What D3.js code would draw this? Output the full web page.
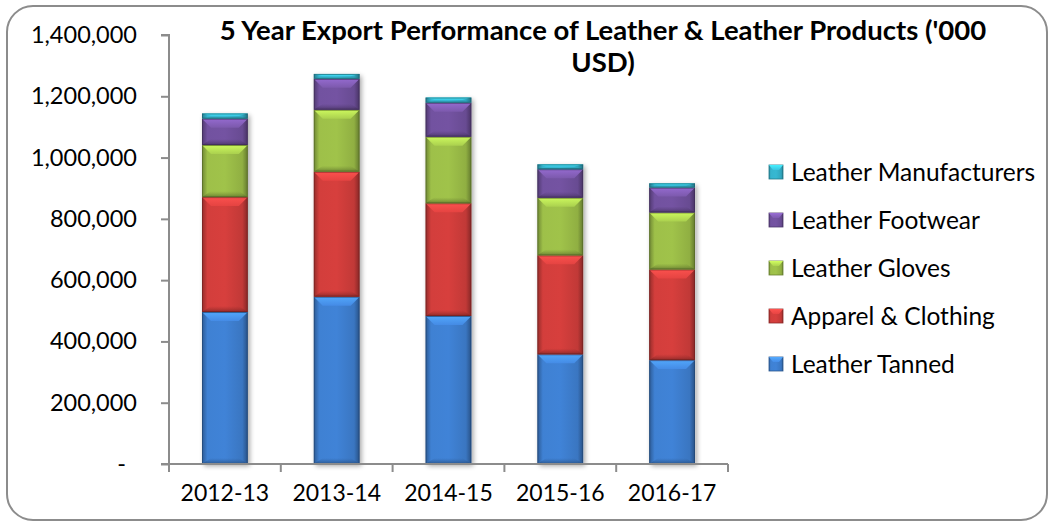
<!DOCTYPE html>
<html><head><meta charset="utf-8">
<script src="https://cdn.jsdelivr.net/npm/d3@7"></script>
<style>body{margin:0;background:#fff}svg{display:block}text{font-family:Lato,"Open Sans",sans-serif;fill:#000}</style>
</head><body><svg id="c" width="1053" height="529"></svg>
<script>
const categories = ["2012-13","2013-14","2014-15","2015-16","2016-17"];
const seriesNames = ["Leather Tanned","Apparel & Clothing","Leather Gloves","Leather Footwear","Leather Manufacturers"];
const leatherTanned = [496000, 546000, 483000, 358000, 339000];
const apparelClothing = [375000, 408000, 368000, 323000, 296000];
const leatherGloves = [170000, 202000, 217000, 188000, 186000];
const leatherFootwear = [86000, 101000, 111000, 93000, 81000];
const leatherManufacturers = [17000, 16000, 17000, 16000, 14000];
const yTicks = [0,200000,400000,600000,800000,1000000,1200000,1400000];
const colors = ["#3d7ccc","#cc3c3a","#98b946","#6e4f9a","#33aec7"];

const svg = d3.select("#c");
const defs = svg.append("defs");
svg.append("rect").attr("x",7).attr("y",6).attr("width",1040).attr("height",514).attr("rx",26).attr("ry",26)
  .attr("fill","#fff").attr("stroke","#8c8c8c").attr("stroke-width",2);

const values = [leatherTanned, apparelClothing, leatherGloves, leatherFootwear, leatherManufacturers];
const table = categories.map((c,i)=>{const o={cat:c}; seriesNames.forEach((s,j)=>o[s]=values[j][i]); return o;});
const stack = d3.stack().keys(seriesNames)(table);

const x = d3.scaleBand().domain(categories).range([169,728]).paddingInner(0.59).paddingOuter(0.295);
const y = d3.scaleLinear().domain([0,1400000]).range([464,35]);

colors.forEach((col,i)=>{
  const g = defs.append("linearGradient").attr("id","g"+i).attr("x1","0").attr("x2","1").attr("y1","0").attr("y2","0");
  const c = d3.color(col);
  g.append("stop").attr("offset","0").attr("stop-color",c.darker(0.9));
  g.append("stop").attr("offset","0.12").attr("stop-color",c.brighter(0.1));
  g.append("stop").attr("offset","0.5").attr("stop-color",c.brighter(0.15));
  g.append("stop").attr("offset","0.88").attr("stop-color",c.darker(0.15));
  g.append("stop").attr("offset","1").attr("stop-color",c.darker(1.2));
  const t = defs.append("linearGradient").attr("id","t"+i).attr("x1","0").attr("x2","0").attr("y1","0").attr("y2","1");
  t.append("stop").attr("offset","0").attr("stop-color",c.brighter(0.9));
  t.append("stop").attr("offset","1").attr("stop-color",c.brighter(0.35));
  const v = defs.append("linearGradient").attr("id","v"+i).attr("x1","0").attr("x2","0").attr("y1","0").attr("y2","1");
  v.append("stop").attr("offset","0").attr("stop-color",c.darker(0.6)).attr("stop-opacity",0);
  v.append("stop").attr("offset","1").attr("stop-color",c.darker(1.2)).attr("stop-opacity",0.9);
});
const sh = defs.append("filter").attr("id","sh").attr("x","-20%").attr("y","-5%").attr("width","150%").attr("height","115%");
sh.append("feGaussianBlur").attr("in","SourceAlpha").attr("stdDeviation",2.5);
sh.append("feOffset").attr("dx",2).attr("dy",2).attr("result","b");
sh.append("feComponentTransfer").append("feFuncA").attr("type","linear").attr("slope",0.35);
const m = sh.append("feMerge"); m.append("feMergeNode"); m.append("feMergeNode").attr("in","SourceGraphic");

svg.append("g").selectAll("rect").data(table).join("rect")
  .attr("x",d=>x(d.cat)).attr("width",x.bandwidth())
  .attr("y",(d,i)=>y(stack[4][i][1])).attr("height",(d,i)=>y(0)-y(stack[4][i][1]))
  .attr("fill","#fff").attr("filter","url(#sh)");

const bars = svg.append("g");
stack.forEach((s,j)=>{
  const g = bars.append("g");
  s.forEach((d,i)=>{
    const x0=x(categories[i]), w=x.bandwidth(), y0=y(d[1]), h=y(d[0])-y(d[1]);
    g.append("rect").attr("x",x0).attr("y",y0).attr("width",w).attr("height",h).attr("fill",`url(#g${j})`);
    const b=Math.min(9,h/2), inset=Math.min(9,w/2);
    g.append("path").attr("d",`M${x0},${y0}L${x0+w},${y0}L${x0+w-inset},${y0+b}L${x0+inset},${y0+b}Z`).attr("fill",`url(#t${j})`).attr("opacity",0.9);
    const bb=Math.min(6,h/3);
    g.append("path").attr("d",`M${x0},${y0+h}L${x0+w},${y0+h}L${x0+w-inset},${y0+h-bb}L${x0+inset},${y0+h-bb}Z`).attr("fill",`url(#v${j})`);
    g.append("rect").attr("x",x0+0.5).attr("y",y0+0.5).attr("width",w-1).attr("height",Math.max(0,h-1))
      .attr("fill","none").attr("stroke",d3.color(colors[j]).darker(1.6)).attr("stroke-width",1).attr("opacity",0.7);
  });
});

const ya = svg.append("g").attr("transform","translate(169,0)")
  .call(d3.axisLeft(y).tickValues(yTicks).tickSize(8).tickPadding(24)
    .tickFormat(v=>v===0?"-":d3.format(",")(v)));
ya.selectAll("path,line").attr("stroke","#8c8c8c").attr("stroke-width",2);
ya.select(".domain").attr("d","M-8,35H0V464H-8");
ya.selectAll("text").style("font-size","23.5px").attr("fill","#000");
ya.selectAll(".tick").filter(d=>d===0).select("text").attr("dx",-11);

const xa = svg.append("g").attr("transform","translate(0,464)")
  .call(d3.axisBottom(x).tickSize(0).tickPadding(21));
xa.select(".domain").attr("stroke","#8c8c8c").attr("stroke-width",2).attr("d","M169,0H728");
xa.selectAll("text").style("font-size","23px");
const step = x.step();
svg.append("g").selectAll("line").data(d3.range(categories.length+1)).join("line")
  .attr("x1",i=>169+i*step).attr("x2",i=>169+i*step).attr("y1",464).attr("y2",472)
  .attr("stroke","#8c8c8c").attr("stroke-width",2);

svg.append("text").attr("x",603).attr("y",40).attr("text-anchor","middle").style("font-size","27.5px").style("font-weight","bold")
  .text("5 Year Export Performance of Leather & Leather Products ('000");
svg.append("text").attr("x",603).attr("y",72).attr("text-anchor","middle").style("font-size","27.5px").style("font-weight","bold")
  .text("USD)");

const legendOrder = seriesNames.map((s,j)=>({s,j})).reverse();
const lg = svg.append("g").selectAll("g").data(legendOrder).join("g")
  .attr("transform",(d,i)=>`translate(769,${172+i*48})`);
lg.append("rect").attr("x",0).attr("y",-7).attr("width",14).attr("height",14).attr("fill",d=>`url(#g${d.j})`)
  .attr("stroke",d=>d3.color(colors[d.j]).darker(1)).attr("stroke-width",0.8);
lg.append("path").attr("d","M0,-7L14,-7L10,-2L4,-2Z").attr("fill",d=>`url(#t${d.j})`);
lg.append("text").attr("x",22).attr("y",0).attr("dy","0.35em").style("font-size","24.5px").text(d=>d.s);
</script></body></html>
